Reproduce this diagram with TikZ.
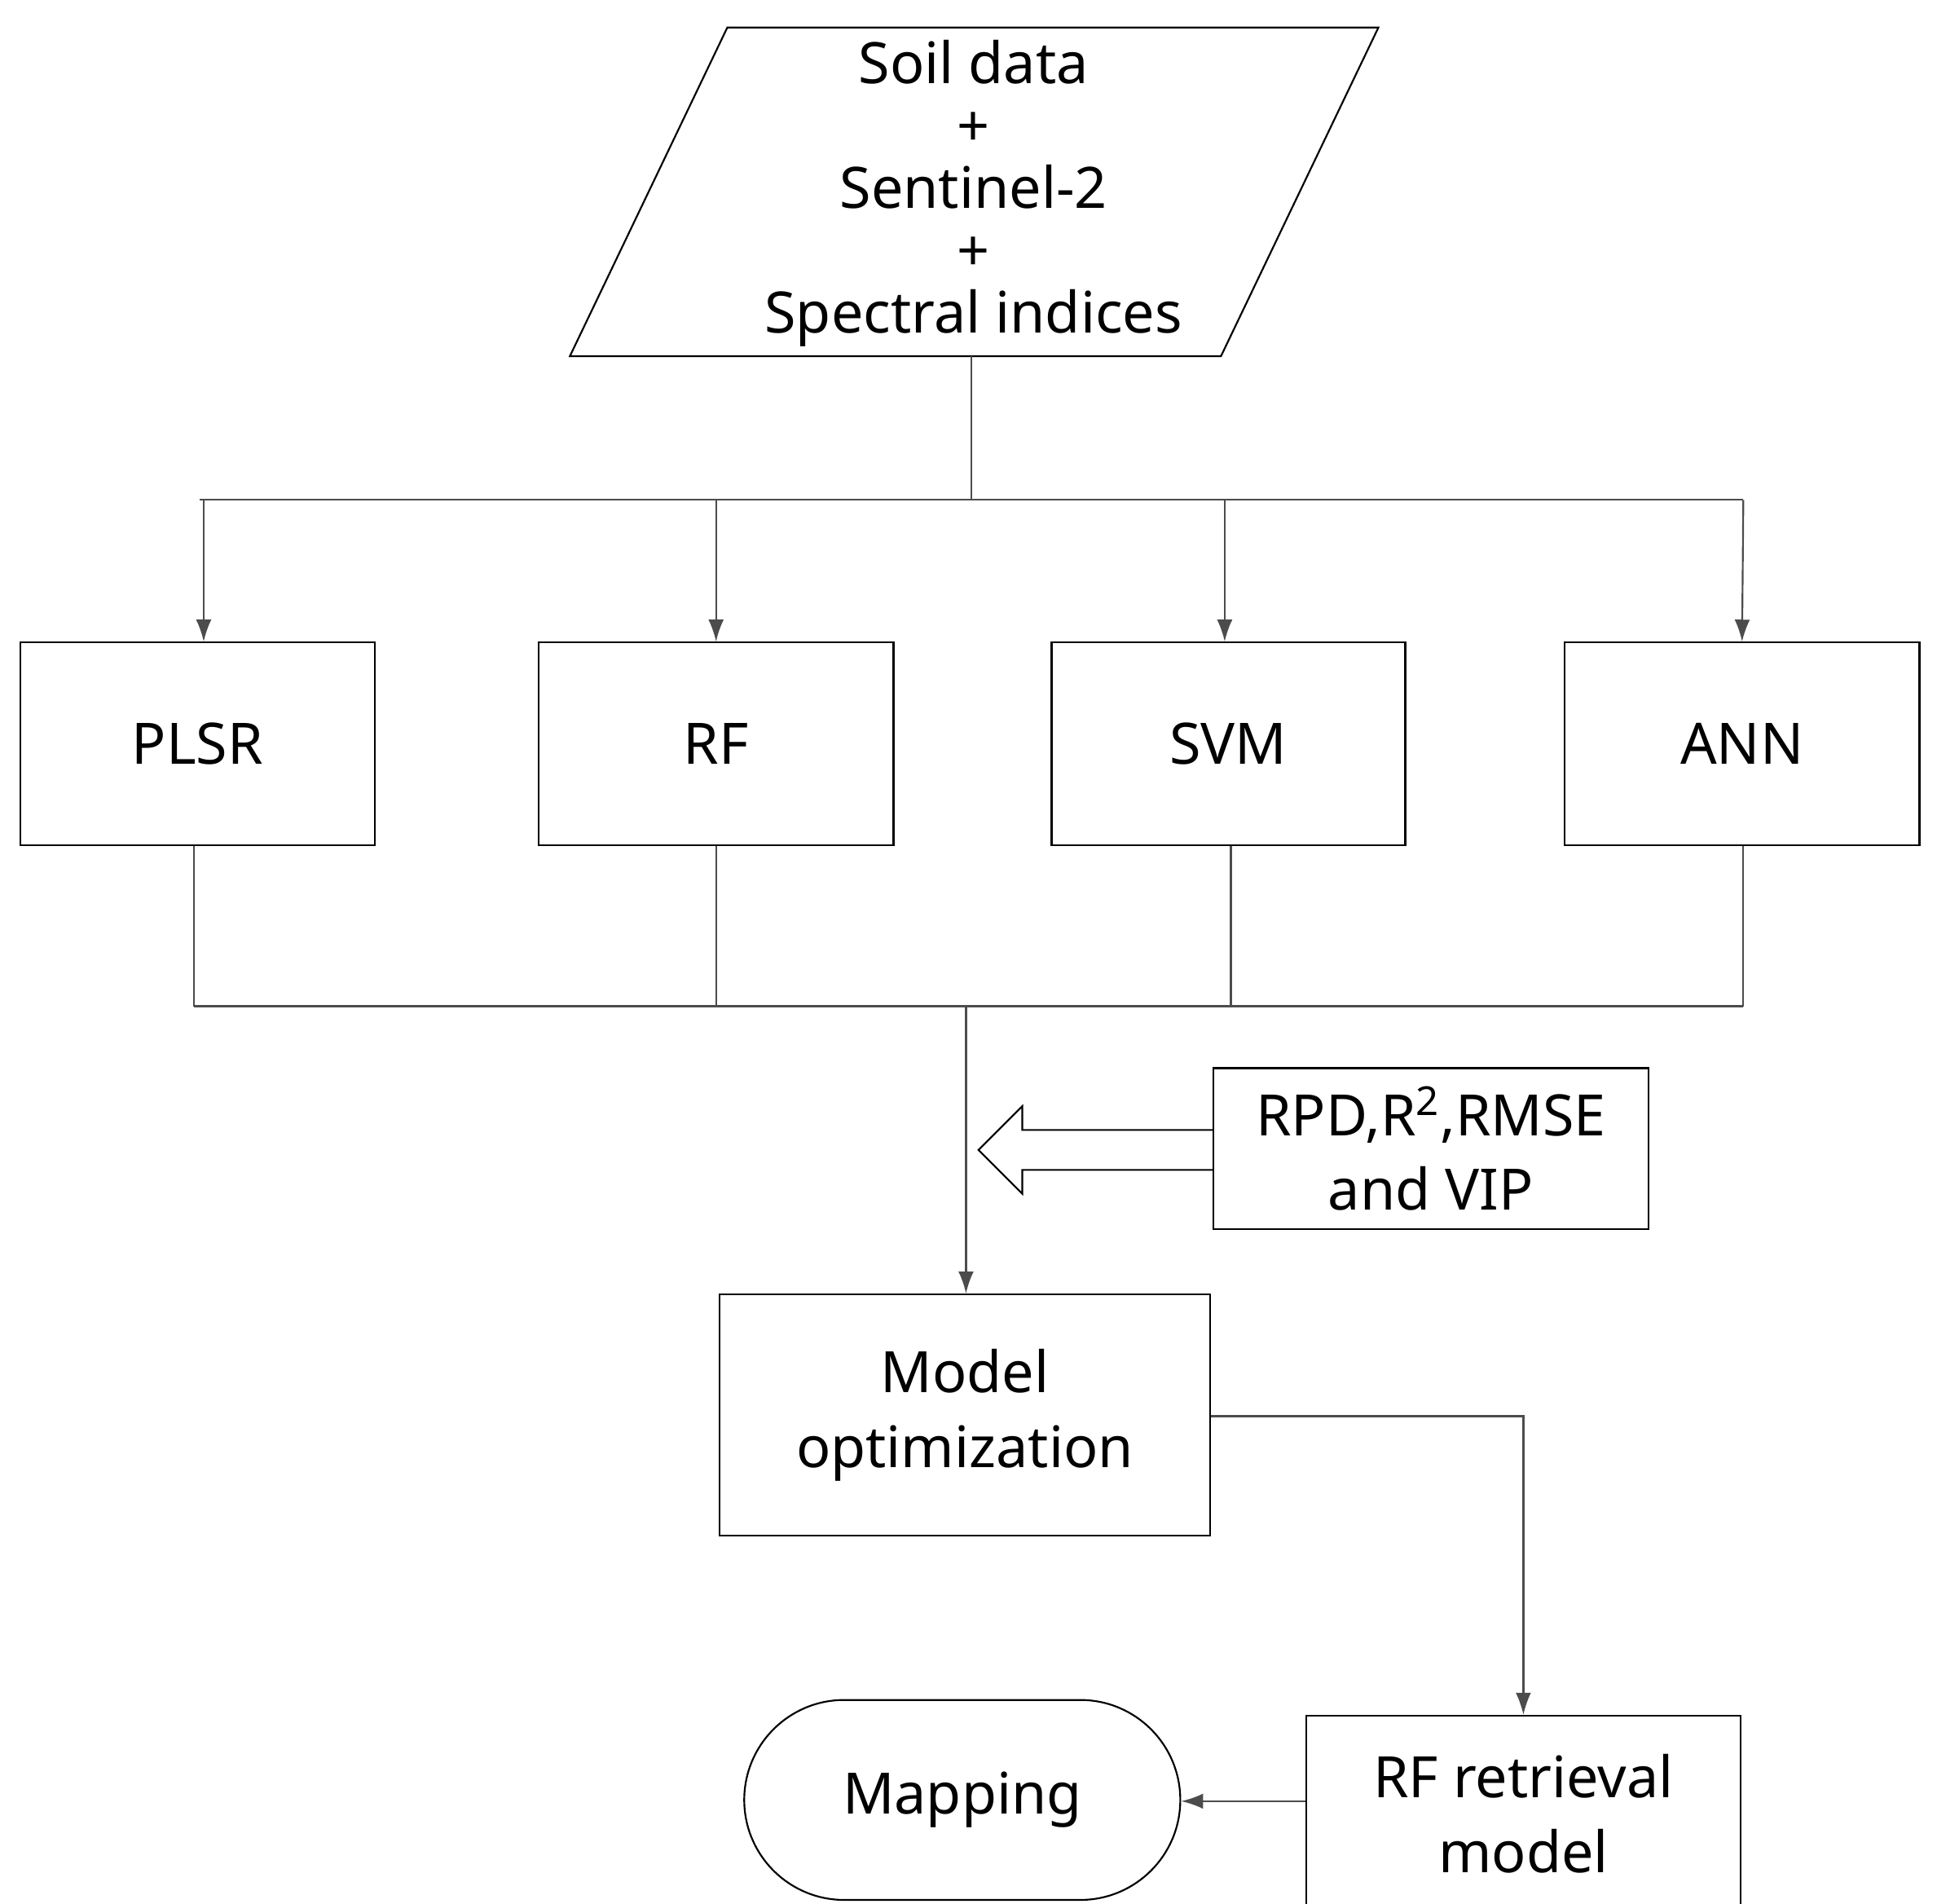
\documentclass[tikz,border=0pt]{standalone}
\usepackage{fontspec}
\setmainfont{Noto Sans}
\usetikzlibrary{shapes.misc,arrows.meta}
\tikzset{
  box/.style={draw,thick,align=center,inner sep=0pt,font=\fontsize{26}{34}\selectfont},
  txt/.style={align=center,inner sep=0pt,font=\fontsize{26}{28.4}\selectfont},
  link/.style={draw=black!70,thick},
  arr/.style={link,-{Latex[length=10pt,width=7pt]}}
}
\begin{document}
\begin{tikzpicture}[x=0.02cm,y=-0.02cm]
    \useasboundingbox (0,0) rectangle (1550,1523);
    %Input
    \node[txt] (input) at (779,155) {Soil data\\+\\Sentinel-2\\+\\Spectral indices};
    \draw[thick] (582,22) -- (1103,22) -- (977,285) -- (456,285) -- cycle;
    \coordinate (in) at (777,285);
    \coordinate (split) at (777,400);
    %Models
    \node[box,minimum width=5.68cm,minimum height=3.24cm] (plsr) at (158,595) {PLSR};
    \node[box,minimum width=5.68cm,minimum height=3.24cm] (rf) at (573,595) {RF};
    \node[box,minimum width=5.66cm,minimum height=3.24cm] (svm) at (983,595) {SVM};
    \node[box,minimum width=5.68cm,minimum height=3.24cm] (ann) at (1394,595) {ANN};
    \draw[link] (in) -- (split);
    \draw[link] (160,400) -- (1395,400);
    \draw[arr] (163,400) -- (plsr.north -| 163,0);
    \draw[arr] (573,400) -- (rf.north);
    \draw[arr] (980,400) -- (svm.north -| 980,0);
    \draw[arr] (1395,400) -- (ann.north);
    %Merge
    \draw[link] (plsr.south -| 155,0) -- (155,805);
    \draw[link] (rf.south) -- (573,805);
    \draw[link] (svm.south -| 985,0) -- (985,805);
    \draw[link] (ann.south -| 1395,0) -- (1395,805);
    \draw[link] (155,805) -- (1395,805);
    \node[box,minimum width=7.86cm,minimum height=3.86cm] (opt) at (772,1132) {Model\\optimization};
    \draw[arr] (773,805) -- (opt.north -| 773,0);
    %Criteria
    \node[box,minimum width=6.96cm,minimum height=2.58cm] (crit) at (1145,919) {RPD,R\textsuperscript{2},RMSE\\and VIP};
    \draw[thick] (crit.west |- 0,904) -- (818,904) -- (818,885) -- (783,920) -- (818,955) -- (818,936) -- (crit.west |- 0,936);
    %Output
    \node[box,minimum width=6.96cm,minimum height=3.14cm] (rfm) at (1219,1451) {RF retrieval\\model};
    \node[box,rounded rectangle,minimum width=6.98cm,minimum height=3.2cm] (map) at (770,1440) {Mapping};
    \draw[arr] (opt.east |- 0,1133) -- (1219,1133) -- (rfm.north);
    \draw[arr] (rfm.west |- 0,1441) -- (map.east |- 0,1441);
\end{tikzpicture}
\end{document}
